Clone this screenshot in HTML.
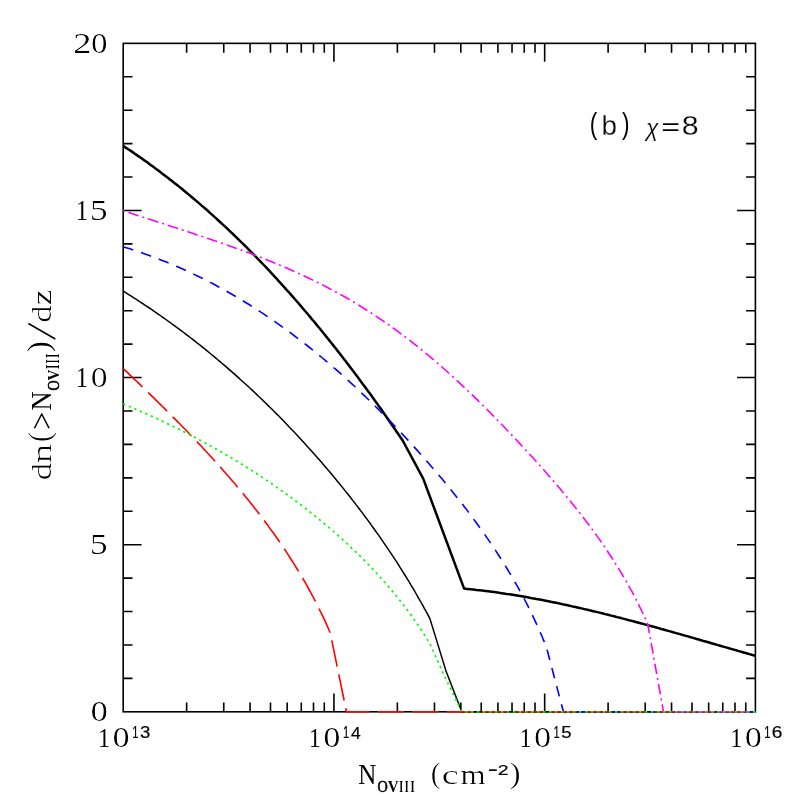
<!DOCTYPE html>
<html><head><meta charset="utf-8"><title>chart</title>
<style>html,body{margin:0;padding:0;background:#fff}svg{display:block}</style>
</head><body>
<svg width="797" height="797" viewBox="0 0 797 797">
<rect width="797" height="797" fill="#fff"/>
<g fill="none" stroke="#000" stroke-width="1.6" stroke-linecap="butt">
<path d="M186.64,711.8 v-9.3 M186.64,43.35 v9.3 M223.75,711.8 v-9.3 M223.75,43.35 v9.3 M250.07,711.8 v-9.3 M250.07,43.35 v9.3 M270.50,711.8 v-9.3 M270.50,43.35 v9.3 M287.18,711.8 v-9.3 M287.18,43.35 v9.3 M301.29,711.8 v-9.3 M301.29,43.35 v9.3 M313.51,711.8 v-9.3 M313.51,43.35 v9.3 M324.29,711.8 v-9.3 M324.29,43.35 v9.3 M333.93,711.8 v-18.4 M333.93,43.35 v18.4 M397.37,711.8 v-9.3 M397.37,43.35 v9.3 M434.48,711.8 v-9.3 M434.48,43.35 v9.3 M460.81,711.8 v-9.3 M460.81,43.35 v9.3 M481.23,711.8 v-9.3 M481.23,43.35 v9.3 M497.92,711.8 v-9.3 M497.92,43.35 v9.3 M512.02,711.8 v-9.3 M512.02,43.35 v9.3 M524.24,711.8 v-9.3 M524.24,43.35 v9.3 M535.02,711.8 v-9.3 M535.02,43.35 v9.3 M544.67,711.8 v-18.4 M544.67,43.35 v18.4 M608.10,711.8 v-9.3 M608.10,43.35 v9.3 M645.21,711.8 v-9.3 M645.21,43.35 v9.3 M671.54,711.8 v-9.3 M671.54,43.35 v9.3 M691.96,711.8 v-9.3 M691.96,43.35 v9.3 M708.65,711.8 v-9.3 M708.65,43.35 v9.3 M722.76,711.8 v-9.3 M722.76,43.35 v9.3 M734.98,711.8 v-9.3 M734.98,43.35 v9.3 M745.76,711.8 v-9.3 M745.76,43.35 v9.3 M123.2,678.38 h9.3 M755.4,678.38 h-9.3 M123.2,644.95 h9.3 M755.4,644.95 h-9.3 M123.2,611.53 h9.3 M755.4,611.53 h-9.3 M123.2,578.11 h9.3 M755.4,578.11 h-9.3 M123.2,544.69 h18.4 M755.4,544.69 h-18.4 M123.2,511.26 h9.3 M755.4,511.26 h-9.3 M123.2,477.84 h9.3 M755.4,477.84 h-9.3 M123.2,444.42 h9.3 M755.4,444.42 h-9.3 M123.2,411.00 h9.3 M755.4,411.00 h-9.3 M123.2,377.57 h18.4 M755.4,377.57 h-18.4 M123.2,344.15 h9.3 M755.4,344.15 h-9.3 M123.2,310.73 h9.3 M755.4,310.73 h-9.3 M123.2,277.31 h9.3 M755.4,277.31 h-9.3 M123.2,243.88 h9.3 M755.4,243.88 h-9.3 M123.2,210.46 h18.4 M755.4,210.46 h-18.4 M123.2,177.04 h9.3 M755.4,177.04 h-9.3 M123.2,143.62 h9.3 M755.4,143.62 h-9.3 M123.2,110.19 h9.3 M755.4,110.19 h-9.3 M123.2,76.77 h9.3 M755.4,76.77 h-9.3"/>
<rect x="123.2" y="43.35" width="632.20" height="668.45"/>
</g>
<g fill="none" stroke-linejoin="round">
<path d="M123.2,145.9 L125.7,147.6 L128.3,149.2 L130.8,150.9 L133.3,152.6 L135.8,154.4 L138.3,156.1 L140.8,157.8 L143.2,159.6 L145.7,161.3 L148.2,163.1 L150.6,164.9 L153.0,166.6 L155.5,168.4 L157.9,170.2 L160.3,172.1 L162.7,173.9 L165.1,175.7 L167.5,177.6 L169.9,179.4 L172.3,181.3 L174.7,183.2 L177.1,185.0 L179.4,186.9 L181.8,188.8 L184.1,190.7 L186.5,192.7 L188.8,194.6 L191.1,196.5 L193.4,198.5 L195.7,200.4 L198.0,202.4 L200.3,204.4 L202.6,206.4 L204.9,208.3 L207.2,210.3 L209.4,212.3 L211.7,214.4 L213.9,216.4 L216.2,218.4 L218.4,220.5 L220.6,222.5 L222.9,224.6 L225.1,226.6 L227.3,228.7 L229.5,230.8 L231.7,232.9 L233.9,235.0 L236.1,237.1 L238.2,239.2 L240.4,241.3 L242.6,243.4 L244.7,245.5 L246.9,247.7 L249.0,249.8 L251.1,252.0 L253.3,254.1 L255.4,256.3 L257.5,258.5 L259.6,260.7 L261.7,262.8 L263.8,265.0 L265.9,267.2 L268.0,269.4 L270.1,271.7 L272.1,273.9 L274.2,276.1 L276.3,278.3 L278.3,280.6 L280.3,282.8 L282.4,285.1 L284.4,287.3 L286.4,289.6 L288.5,291.8 L290.5,294.1 L292.5,296.4 L294.5,298.7 L296.5,301.0 L298.5,303.3 L300.5,305.6 L302.4,307.9 L304.4,310.2 L306.4,312.5 L308.3,314.8 L310.3,317.1 L312.2,319.5 L314.2,321.8 L316.1,324.1 L318.0,326.5 L320.0,328.8 L321.9,331.2 L323.8,333.5 L325.7,335.9 L327.6,338.2 L329.5,340.6 L331.4,343.0 L333.3,345.4 L335.2,347.7 L337.0,350.1 L338.9,352.5 L340.8,354.9 L342.6,357.3 L344.5,359.7 L346.3,362.1 L348.2,364.5 L350.0,366.9 L351.8,369.3 L353.7,371.8 L355.5,374.2 L357.3,376.6 L359.1,379.0 L360.9,381.5 L362.7,383.9 L364.5,386.3 L366.3,388.8 L368.1,391.2 L369.9,393.6 L371.7,396.1 L373.4,398.5 L375.2,401.0 L377.0,403.4 L378.7,405.9 L380.5,408.3 L382.2,410.8 L402.7,440.5 L423.2,478.6 L464.1,588.6 L467.1,588.9 L470.2,589.2 L473.2,589.5 L476.3,589.9 L479.3,590.2 L482.3,590.6 L485.4,590.9 L488.4,591.3 L491.4,591.7 L494.5,592.1 L497.5,592.5 L500.5,593.0 L503.5,593.4 L506.6,593.9 L509.6,594.3 L512.6,594.8 L515.6,595.3 L518.6,595.8 L521.6,596.3 L524.6,596.8 L527.6,597.3 L530.6,597.9 L533.6,598.4 L536.6,599.0 L539.6,599.5 L542.6,600.1 L545.6,600.7 L548.6,601.3 L551.6,601.9 L554.6,602.5 L557.6,603.1 L560.6,603.8 L563.6,604.4 L566.6,605.0 L569.5,605.7 L572.5,606.4 L575.5,607.0 L578.5,607.7 L581.5,608.4 L584.4,609.1 L587.4,609.8 L590.4,610.5 L593.4,611.2 L596.3,611.9 L599.3,612.6 L602.3,613.3 L605.2,614.1 L608.2,614.8 L611.2,615.6 L614.1,616.3 L617.1,617.1 L620.1,617.8 L623.0,618.6 L626.0,619.4 L628.9,620.2 L631.9,620.9 L634.8,621.7 L637.8,622.5 L640.7,623.3 L643.7,624.1 L646.7,624.9 L649.6,625.7 L652.6,626.5 L655.5,627.3 L658.4,628.1 L661.4,629.0 L664.3,629.8 L667.3,630.6 L670.2,631.4 L673.2,632.3 L676.1,633.1 L679.1,633.9 L682.0,634.8 L684.9,635.6 L687.9,636.4 L690.8,637.3 L693.8,638.1 L696.7,639.0 L699.6,639.8 L702.6,640.7 L705.5,641.5 L708.5,642.3 L711.4,643.2 L714.3,644.0 L717.3,644.9 L720.2,645.7 L723.1,646.6 L726.1,647.4 L729.0,648.3 L731.9,649.1 L734.9,649.9 L737.8,650.8 L740.7,651.6 L743.7,652.5 L746.6,653.3 L749.5,654.1 L752.5,655.0 L755.4,655.8" stroke="#000" stroke-width="2.5"/>
<path d="M123.2,291.1 L125.8,292.7 L128.3,294.3 L130.9,295.9 L133.4,297.6 L136.0,299.2 L138.5,300.8 L141.0,302.5 L143.5,304.1 L146.0,305.8 L148.6,307.5 L151.1,309.2 L153.5,310.9 L156.0,312.6 L158.5,314.3 L161.0,316.0 L163.5,317.8 L165.9,319.5 L168.4,321.3 L170.8,323.0 L173.3,324.8 L175.7,326.6 L178.1,328.4 L180.5,330.2 L183.0,332.0 L185.4,333.8 L187.8,335.7 L190.2,337.5 L192.6,339.3 L194.9,341.2 L197.3,343.1 L199.7,344.9 L202.1,346.8 L204.4,348.7 L206.8,350.6 L209.1,352.5 L211.5,354.5 L213.8,356.4 L216.1,358.3 L218.4,360.3 L220.7,362.2 L223.0,364.2 L225.3,366.1 L227.6,368.1 L229.9,370.1 L232.2,372.1 L234.5,374.1 L236.7,376.1 L239.0,378.1 L241.2,380.2 L243.5,382.2 L245.7,384.2 L248.0,386.3 L250.2,388.3 L252.4,390.4 L254.6,392.5 L256.8,394.6 L259.0,396.7 L261.2,398.7 L263.4,400.9 L265.6,403.0 L267.7,405.1 L269.9,407.2 L272.0,409.3 L274.2,411.5 L276.3,413.6 L278.5,415.8 L280.6,417.9 L282.7,420.1 L284.8,422.3 L286.9,424.5 L289.0,426.7 L291.1,428.9 L293.2,431.1 L295.3,433.3 L297.4,435.5 L299.4,437.7 L301.5,439.9 L303.6,442.2 L305.6,444.4 L307.6,446.7 L309.7,448.9 L311.7,451.2 L313.7,453.5 L315.7,455.7 L317.7,458.0 L319.7,460.3 L321.7,462.6 L323.7,464.9 L325.7,467.2 L327.6,469.5 L329.6,471.8 L331.5,474.1 L333.5,476.5 L335.4,478.8 L337.4,481.2 L339.3,483.5 L341.2,485.9 L343.1,488.2 L345.0,490.6 L346.9,492.9 L348.8,495.3 L350.7,497.7 L352.5,500.1 L354.4,502.5 L356.2,504.9 L358.1,507.3 L359.9,509.7 L361.8,512.1 L363.6,514.6 L365.4,517.0 L367.2,519.4 L369.0,521.9 L370.8,524.3 L372.5,526.8 L374.3,529.2 L376.1,531.7 L377.8,534.1 L379.6,536.6 L381.3,539.1 L383.0,541.6 L384.7,544.1 L386.4,546.6 L388.1,549.1 L389.8,551.6 L391.5,554.1 L393.2,556.6 L394.8,559.2 L396.5,561.7 L398.1,564.2 L399.7,566.8 L401.3,569.3 L402.9,571.9 L404.5,574.5 L406.1,577.0 L407.7,579.6 L409.3,582.2 L410.8,584.8 L412.4,587.3 L413.9,589.9 L415.4,592.5 L416.9,595.2 L418.4,597.8 L419.9,600.4 L421.4,603.0 L422.9,605.6 L424.3,608.3 L425.8,610.9 L427.2,613.6 L428.6,616.2 L430.0,618.9 L445.8,670.4 L461.8,711.8 L755.4,711.8" stroke="#000" stroke-width="1.5"/>
<path d="M123.2,246.8 L126.2,247.7 L129.1,248.6 L132.0,249.6 L134.9,250.5 L137.9,251.5 L140.8,252.5 L143.6,253.5 L146.5,254.5 L149.4,255.5 L152.3,256.6 L155.1,257.7 L158.0,258.8 L160.8,259.9 L163.6,261.0 L166.5,262.1 L169.3,263.3 L172.1,264.4 L174.9,265.6 L177.6,266.8 L180.4,268.0 L183.2,269.3 L185.9,270.5 L188.7,271.8 L191.4,273.1 L194.1,274.4 L196.9,275.7 L199.6,277.0 L202.3,278.3 L205.0,279.7 L207.7,281.0 L210.3,282.4 L213.0,283.8 L215.7,285.2 L218.3,286.7 L221.0,288.1 L223.6,289.6 L226.2,291.0 L228.8,292.5 L231.4,294.0 L234.0,295.5 L236.6,297.0 L239.2,298.6 L241.8,300.1 L244.4,301.7 L246.9,303.2 L249.5,304.8 L252.0,306.4 L254.5,308.0 L257.1,309.7 L259.6,311.3 L262.1,312.9 L264.6,314.6 L267.1,316.3 L269.6,318.0 L272.1,319.7 L274.5,321.4 L277.0,323.1 L279.5,324.8 L281.9,326.6 L284.4,328.3 L286.8,330.1 L289.2,331.9 L291.6,333.7 L294.0,335.5 L296.4,337.3 L298.8,339.1 L301.2,341.0 L303.6,342.8 L306.0,344.7 L308.3,346.5 L310.7,348.4 L313.1,350.3 L315.4,352.2 L317.7,354.1 L320.1,356.0 L322.4,358.0 L324.7,359.9 L327.0,361.8 L329.3,363.8 L331.6,365.8 L333.9,367.8 L336.2,369.7 L338.4,371.7 L340.7,373.7 L343.0,375.8 L345.2,377.8 L347.5,379.8 L349.7,381.9 L351.9,383.9 L354.2,386.0 L356.4,388.0 L358.6,390.1 L360.8,392.2 L363.0,394.3 L365.2,396.4 L367.4,398.5 L369.5,400.6 L371.7,402.7 L373.9,404.8 L376.0,407.0 L378.2,409.1 L380.3,411.3 L382.5,413.4 L384.6,415.6 L386.7,417.8 L388.9,420.0 L391.0,422.1 L393.1,424.3 L395.2,426.5 L397.3,428.7 L399.4,431.0 L401.5,433.2 L403.5,435.4 L405.6,437.6 L407.7,439.9 L409.7,442.1 L411.8,444.4 L413.8,446.6 L415.9,448.9 L417.9,451.1 L419.9,453.4 L422.0,455.7 L424.0,458.0 L426.0,460.3 L428.0,462.6 L430.0,464.9 L432.0,467.2 L434.0,469.5 L436.0,471.8 L437.9,474.1 L439.9,476.4 L441.9,478.8 L443.8,481.1 L445.8,483.5 L447.7,485.8 L449.6,488.2 L451.5,490.5 L453.4,492.9 L455.3,495.3 L457.2,497.7 L459.1,500.0 L461.0,502.4 L462.9,504.8 L464.7,507.2 L466.6,509.6 L468.4,512.1 L470.2,514.5 L472.0,516.9 L473.8,519.4 L475.6,521.8 L477.4,524.3 L479.2,526.7 L481.0,529.2 L482.7,531.6 L484.5,534.1 L486.2,536.6 L487.9,539.1 L489.6,541.6 L491.3,544.1 L493.0,546.6 L494.7,549.1 L496.3,551.6 L498.0,554.2 L499.6,556.7 L501.2,559.3 L502.8,561.8 L504.4,564.4 L506.0,566.9 L507.6,569.5 L509.1,572.1 L510.7,574.7 L512.2,577.3 L513.7,579.9 L515.2,582.5 L516.7,585.1 L518.2,587.7 L519.6,590.4 L521.1,593.0 L522.5,595.7 L523.9,598.3 L525.3,601.0 L526.7,603.7 L528.1,606.3 L529.4,609.0 L530.7,611.7 L532.0,614.4 L533.3,617.1 L534.6,619.8 L535.9,622.6 L537.1,625.3 L538.4,628.0 L539.6,630.8 L540.8,633.6 L542.0,636.3 L543.1,639.1 L544.3,641.9 L545.4,644.7 L546.5,647.5 L563.4,711.8 L755.4,711.8" stroke="#00f" stroke-width="1.6" stroke-dasharray="10.6 8.2"/>
<path d="M123.2,368.5 L125.4,370.6 L127.6,372.7 L129.8,374.8 L131.9,376.8 L134.1,378.9 L136.3,381.0 L138.5,383.1 L140.7,385.2 L142.9,387.4 L145.1,389.5 L147.2,391.6 L149.4,393.7 L151.6,395.8 L153.8,397.9 L155.9,400.1 L158.1,402.2 L160.3,404.4 L162.5,406.5 L164.6,408.6 L166.8,410.8 L168.9,412.9 L171.1,415.1 L173.2,417.3 L175.4,419.4 L177.5,421.6 L179.7,423.8 L181.8,426.0 L184.0,428.2 L186.1,430.3 L188.2,432.5 L190.3,434.7 L192.4,436.9 L194.6,439.2 L196.7,441.4 L198.8,443.6 L200.9,445.8 L202.9,448.1 L205.0,450.3 L207.1,452.5 L209.2,454.8 L211.2,457.0 L213.3,459.3 L215.4,461.6 L217.4,463.8 L219.4,466.1 L221.5,468.4 L223.5,470.7 L225.5,473.0 L227.5,475.3 L229.5,477.6 L231.5,479.9 L233.5,482.2 L235.5,484.5 L237.4,486.9 L239.4,489.2 L241.3,491.6 L243.3,493.9 L245.2,496.3 L247.1,498.6 L249.1,501.0 L251.0,503.4 L252.9,505.8 L254.7,508.2 L256.6,510.6 L258.5,513.0 L260.3,515.4 L262.2,517.8 L264.0,520.3 L265.8,522.7 L267.6,525.1 L269.4,527.6 L271.2,530.1 L273.0,532.5 L274.8,535.0 L276.5,537.5 L278.3,540.0 L280.0,542.5 L281.7,545.0 L283.4,547.5 L285.1,550.0 L286.8,552.6 L288.4,555.1 L290.1,557.7 L291.7,560.2 L293.3,562.8 L294.9,565.4 L296.5,568.0 L298.1,570.5 L299.7,573.1 L301.2,575.8 L302.8,578.4 L304.3,581.0 L305.8,583.6 L307.3,586.3 L308.8,589.0 L310.2,591.6 L311.7,594.3 L313.1,597.0 L314.5,599.7 L315.9,602.4 L317.3,605.1 L318.7,607.8 L320.0,610.6 L321.4,613.3 L322.7,616.1 L324.0,618.8 L325.3,621.6 L326.5,624.4 L327.8,627.2 L329.0,630.0 L330.2,632.8 L346.5,711.8 L755.4,711.8" stroke="#f00" stroke-width="1.6" stroke-dasharray="26.7 7.9"/>
<path d="M123.2,210.6 L126.1,211.6 L129.0,212.5 L131.8,213.5 L134.7,214.4 L137.6,215.4 L140.5,216.3 L143.4,217.3 L146.3,218.2 L149.1,219.2 L152.0,220.1 L154.9,221.0 L157.8,222.0 L160.7,222.9 L163.6,223.8 L166.5,224.8 L169.3,225.7 L172.2,226.7 L175.1,227.6 L178.0,228.5 L180.9,229.5 L183.7,230.4 L186.6,231.3 L189.5,232.3 L192.4,233.2 L195.2,234.2 L198.1,235.1 L201.0,236.1 L203.8,237.0 L206.7,238.0 L209.6,239.0 L212.4,239.9 L215.3,240.9 L218.1,241.9 L221.0,242.9 L223.8,243.9 L226.7,244.9 L229.5,245.9 L232.4,246.9 L235.2,247.9 L238.0,248.9 L240.9,249.9 L243.7,251.0 L246.5,252.0 L249.3,253.1 L252.1,254.1 L254.9,255.2 L257.7,256.3 L260.5,257.3 L263.3,258.4 L266.1,259.5 L268.9,260.7 L271.7,261.8 L274.5,262.9 L277.3,264.1 L280.0,265.2 L282.8,266.4 L285.5,267.6 L288.3,268.8 L291.0,270.0 L293.8,271.2 L296.5,272.4 L299.2,273.7 L302.0,274.9 L304.7,276.2 L307.4,277.5 L310.1,278.8 L312.8,280.1 L315.5,281.4 L318.2,282.7 L320.8,284.1 L323.5,285.4 L326.2,286.8 L328.8,288.2 L331.5,289.6 L334.1,291.0 L336.7,292.5 L339.4,293.9 L342.0,295.4 L344.6,296.8 L347.2,298.3 L349.8,299.8 L352.4,301.4 L355.0,302.9 L357.5,304.4 L360.1,306.0 L362.6,307.6 L365.2,309.2 L367.7,310.8 L370.2,312.4 L372.7,314.0 L375.2,315.7 L377.7,317.3 L380.2,319.0 L382.7,320.7 L385.2,322.4 L387.6,324.1 L390.1,325.8 L392.5,327.6 L395.0,329.3 L397.4,331.1 L399.8,332.9 L402.2,334.7 L404.6,336.5 L407.0,338.3 L409.4,340.1 L411.7,342.0 L414.1,343.8 L416.5,345.7 L418.8,347.6 L421.2,349.5 L423.5,351.4 L425.8,353.3 L428.1,355.2 L430.4,357.2 L432.8,359.1 L435.0,361.1 L437.3,363.0 L439.6,365.0 L441.9,367.0 L444.2,369.0 L446.4,371.0 L448.7,373.0 L450.9,375.0 L453.2,377.1 L455.4,379.1 L457.6,381.1 L459.8,383.2 L462.0,385.3 L464.3,387.3 L466.5,389.4 L468.6,391.5 L470.8,393.6 L473.0,395.7 L475.2,397.8 L477.4,399.9 L479.5,402.1 L481.7,404.2 L483.8,406.3 L486.0,408.5 L488.1,410.6 L490.3,412.8 L492.4,414.9 L494.5,417.1 L496.6,419.3 L498.7,421.4 L500.9,423.6 L503.0,425.8 L505.1,428.0 L507.2,430.2 L509.3,432.4 L511.3,434.6 L513.4,436.8 L515.5,439.0 L517.6,441.2 L519.6,443.4 L521.7,445.7 L523.8,447.9 L525.8,450.1 L527.9,452.3 L529.9,454.6 L532.0,456.8 L534.0,459.1 L536.0,461.3 L538.0,463.6 L540.1,465.8 L542.1,468.1 L544.1,470.3 L546.1,472.6 L548.1,474.9 L550.1,477.1 L552.1,479.4 L554.0,481.7 L556.0,484.0 L557.9,486.3 L559.9,488.6 L561.8,490.9 L563.8,493.2 L565.7,495.5 L567.6,497.8 L569.5,500.2 L571.4,502.5 L573.3,504.9 L575.2,507.2 L577.1,509.6 L578.9,511.9 L580.8,514.3 L582.6,516.7 L584.4,519.0 L586.2,521.4 L588.1,523.8 L589.9,526.2 L591.6,528.6 L593.4,531.1 L595.2,533.5 L596.9,535.9 L598.7,538.4 L600.4,540.8 L602.1,543.3 L603.8,545.7 L605.5,548.2 L607.2,550.7 L608.8,553.2 L610.5,555.7 L612.1,558.2 L613.7,560.7 L615.3,563.3 L616.9,565.8 L618.5,568.4 L620.0,570.9 L621.6,573.5 L623.1,576.1 L624.6,578.6 L626.1,581.2 L627.6,583.8 L629.1,586.5 L630.5,589.1 L632.0,591.7 L633.4,594.4 L634.8,597.0 L636.2,599.7 L637.5,602.4 L638.9,605.1 L640.2,607.8 L641.5,610.5 L642.8,613.3 L644.1,616.0 L645.4,618.7 L646.6,621.5 L647.8,624.3 L663.5,711.8 L755.4,711.8" stroke="#f0f" stroke-width="1.6" stroke-dasharray="10.7 4 2 4" stroke-dashoffset="15.2"/>
<path d="M123.2,404.0 L126.0,405.1 L128.8,406.3 L131.6,407.4 L134.3,408.6 L137.1,409.8 L139.9,411.0 L142.6,412.2 L145.4,413.4 L148.2,414.7 L150.9,415.9 L153.7,417.2 L156.4,418.4 L159.2,419.7 L161.9,421.0 L164.7,422.3 L167.4,423.6 L170.1,424.9 L172.9,426.2 L175.6,427.6 L178.3,428.9 L181.0,430.3 L183.7,431.6 L186.4,433.0 L189.1,434.4 L191.8,435.8 L194.5,437.2 L197.2,438.6 L199.9,440.1 L202.6,441.5 L205.3,443.0 L208.0,444.4 L210.6,445.9 L213.3,447.4 L215.9,448.9 L218.6,450.4 L221.2,451.9 L223.9,453.5 L226.5,455.0 L229.1,456.5 L231.8,458.1 L234.4,459.7 L237.0,461.3 L239.6,462.9 L242.2,464.5 L244.8,466.1 L247.4,467.7 L250.0,469.3 L252.5,471.0 L255.1,472.6 L257.7,474.3 L260.2,476.0 L262.8,477.7 L265.3,479.4 L267.8,481.1 L270.4,482.8 L272.9,484.5 L275.4,486.3 L277.9,488.0 L280.4,489.8 L282.9,491.6 L285.3,493.3 L287.8,495.1 L290.3,496.9 L292.7,498.8 L295.2,500.6 L297.6,502.4 L300.1,504.3 L302.5,506.1 L304.9,508.0 L307.3,509.9 L309.7,511.8 L312.1,513.7 L314.5,515.6 L316.8,517.5 L319.2,519.4 L321.5,521.4 L323.9,523.3 L326.2,525.3 L328.5,527.2 L330.9,529.2 L333.2,531.2 L335.5,533.2 L337.7,535.2 L340.0,537.3 L342.3,539.3 L344.5,541.4 L346.8,543.4 L349.0,545.5 L351.2,547.6 L353.4,549.7 L355.6,551.8 L357.8,553.9 L360.0,556.0 L362.1,558.2 L364.3,560.3 L366.4,562.5 L368.5,564.7 L370.6,566.9 L372.7,569.1 L374.8,571.3 L376.8,573.5 L378.9,575.7 L380.9,578.0 L382.9,580.2 L385.0,582.5 L386.9,584.8 L388.9,587.1 L390.9,589.4 L392.8,591.7 L394.8,594.1 L396.7,596.4 L398.6,598.8 L400.5,601.1 L402.3,603.5 L404.2,605.9 L406.0,608.3 L407.8,610.8 L409.6,613.2 L411.4,615.6 L413.2,618.1 L414.9,620.6 L416.6,623.1 L418.4,625.6 L420.1,628.1 L421.7,630.6 L423.4,633.2 L425.0,635.7 L426.6,638.3 L428.2,640.9 L429.8,643.5 L445.7,678.7 L461.8,711.8 L755.4,711.8" stroke="#0f0" stroke-width="1.75" stroke-dasharray="2.3 3.7"/>
</g>
<g opacity="0.999" fill="#000">
<clipPath id="c1"><text transform="translate(72.99,53.15) scale(1.2645,1.0208)" font-family="'Liberation Serif', serif" font-size="29.0">2</text></clipPath><g clip-path="url(#c1)"><text transform="translate(73.29,53.15) scale(1.2645,1.0208)" font-family="'Liberation Serif', serif" font-size="29.0">2</text></g>
<clipPath id="c2"><text transform="translate(91.05,52.87) scale(1.1309,1.0016)" font-family="'Liberation Serif', serif" font-size="29.0">0</text></clipPath><g clip-path="url(#c2)"><text transform="translate(91.35,52.87) scale(1.1309,1.0016)" font-family="'Liberation Serif', serif" font-size="29.0">0</text></g>
<text transform="translate(75.73,220.26) scale(0.8521,1.0238)" font-family="'Liberation Serif', serif" font-size="29.0">1</text>
<clipPath id="c3"><text transform="translate(89.61,219.97) scale(1.2412,1.0170)" font-family="'Liberation Serif', serif" font-size="29.0">5</text></clipPath><g clip-path="url(#c3)"><text transform="translate(89.91,219.97) scale(1.2412,1.0170)" font-family="'Liberation Serif', serif" font-size="29.0">5</text></g>
<text transform="translate(75.73,387.37) scale(0.8521,1.0238)" font-family="'Liberation Serif', serif" font-size="29.0">1</text>
<clipPath id="c4"><text transform="translate(90.61,387.09) scale(1.1635,1.0016)" font-family="'Liberation Serif', serif" font-size="29.0">0</text></clipPath><g clip-path="url(#c4)"><text transform="translate(90.91,387.09) scale(1.1635,1.0016)" font-family="'Liberation Serif', serif" font-size="29.0">0</text></g>
<clipPath id="c5"><text transform="translate(89.61,554.20) scale(1.2412,1.0170)" font-family="'Liberation Serif', serif" font-size="29.0">5</text></clipPath><g clip-path="url(#c5)"><text transform="translate(89.91,554.20) scale(1.2412,1.0170)" font-family="'Liberation Serif', serif" font-size="29.0">5</text></g>
<clipPath id="c6"><text transform="translate(90.39,721.32) scale(1.1879,1.0016)" font-family="'Liberation Serif', serif" font-size="29.0">0</text></clipPath><g clip-path="url(#c6)"><text transform="translate(90.69,721.32) scale(1.1879,1.0016)" font-family="'Liberation Serif', serif" font-size="29.0">0</text></g>
<text transform="translate(98.25,747.00) scale(0.8032,0.9768)" font-family="'Liberation Serif', serif" font-size="29.0">1</text>
<clipPath id="c7"><text transform="translate(112.51,747.02) scale(1.1716,0.9811)" font-family="'Liberation Serif', serif" font-size="29.0">0</text></clipPath><g clip-path="url(#c7)"><text transform="translate(112.81,747.02) scale(1.1716,0.9811)" font-family="'Liberation Serif', serif" font-size="29.0">0</text></g>
<text transform="translate(132.15,738.40) scale(0.6958,1.0265)" font-family="'Liberation Sans', sans-serif" font-size="16" stroke="#000" stroke-width="0.2">1</text>
<text transform="translate(139.89,738.34) scale(1.1600,1.0063)" font-family="'Liberation Sans', sans-serif" font-size="16" stroke="#000" stroke-width="0.2">3</text>
<text transform="translate(308.99,747.00) scale(0.8032,0.9768)" font-family="'Liberation Serif', serif" font-size="29.0">1</text>
<clipPath id="c8"><text transform="translate(323.24,747.02) scale(1.1716,0.9811)" font-family="'Liberation Serif', serif" font-size="29.0">0</text></clipPath><g clip-path="url(#c8)"><text transform="translate(323.54,747.02) scale(1.1716,0.9811)" font-family="'Liberation Serif', serif" font-size="29.0">0</text></g>
<text transform="translate(342.89,738.40) scale(0.6958,1.0265)" font-family="'Liberation Sans', sans-serif" font-size="16" stroke="#000" stroke-width="0.2">1</text>
<text transform="translate(350.93,738.50) scale(1.0915,1.0356)" font-family="'Liberation Sans', sans-serif" font-size="16" stroke="#000" stroke-width="0.2">4</text>
<text transform="translate(519.72,747.00) scale(0.8032,0.9768)" font-family="'Liberation Serif', serif" font-size="29.0">1</text>
<clipPath id="c9"><text transform="translate(533.97,747.02) scale(1.1716,0.9811)" font-family="'Liberation Serif', serif" font-size="29.0">0</text></clipPath><g clip-path="url(#c9)"><text transform="translate(534.27,747.02) scale(1.1716,0.9811)" font-family="'Liberation Serif', serif" font-size="29.0">0</text></g>
<text transform="translate(553.62,738.40) scale(0.6958,1.0265)" font-family="'Liberation Sans', sans-serif" font-size="16" stroke="#000" stroke-width="0.2">1</text>
<text transform="translate(561.32,738.34) scale(1.1600,1.0211)" font-family="'Liberation Sans', sans-serif" font-size="16" stroke="#000" stroke-width="0.2">5</text>
<text transform="translate(730.45,747.00) scale(0.8032,0.9768)" font-family="'Liberation Serif', serif" font-size="29.0">1</text>
<clipPath id="c10"><text transform="translate(744.71,747.02) scale(1.1716,0.9811)" font-family="'Liberation Serif', serif" font-size="29.0">0</text></clipPath><g clip-path="url(#c10)"><text transform="translate(745.01,747.02) scale(1.1716,0.9811)" font-family="'Liberation Serif', serif" font-size="29.0">0</text></g>
<text transform="translate(764.35,738.40) scale(0.6958,1.0265)" font-family="'Liberation Sans', sans-serif" font-size="16" stroke="#000" stroke-width="0.2">1</text>
<text transform="translate(771.83,738.34) scale(1.1920,1.0063)" font-family="'Liberation Sans', sans-serif" font-size="16" stroke="#000" stroke-width="0.2">6</text>
<text transform="translate(358.28,784.20) scale(0.8641,1.0006)" font-family="'Liberation Serif', serif" font-size="29.0">N</text>
<text transform="translate(377.62,791.54) scale(0.8362,0.9456)" font-family="'Liberation Serif', serif" font-size="17" stroke="#000" stroke-width="0.6">O</text>
<text transform="translate(387.63,791.74) scale(0.8827,1.0010)" font-family="'Liberation Serif', serif" font-size="17" font-weight="bold">V</text>
<text transform="translate(399.26,792.00) scale(0.5850,1.0241)" font-family="'Liberation Serif', serif" font-size="17" font-weight="bold">I</text>
<text transform="translate(404.86,792.00) scale(0.5850,1.0241)" font-family="'Liberation Serif', serif" font-size="17" font-weight="bold">I</text>
<text transform="translate(410.54,792.00) scale(0.6215,1.0241)" font-family="'Liberation Serif', serif" font-size="17" font-weight="bold">I</text>
<clipPath id="c11"><text transform="translate(430.40,783.12) scale(1.0204,1.0496)" font-family="'Liberation Serif', serif" font-size="29.0">(</text></clipPath><g clip-path="url(#c11)"><text transform="translate(431.00,783.12) scale(1.0204,1.0496)" font-family="'Liberation Serif', serif" font-size="29.0">(</text></g>
<clipPath id="c12"><text transform="translate(441.33,784.14) scale(1.3333,0.9249)" font-family="'Liberation Serif', serif" font-size="29.0">c</text></clipPath><g clip-path="url(#c12)"><text transform="translate(442.03,784.14) scale(1.3333,0.9249)" font-family="'Liberation Serif', serif" font-size="29.0">c</text></g>
<clipPath id="c13"><text transform="translate(460.22,784.20) scale(1.1165,0.9148)" font-family="'Liberation Serif', serif" font-size="29.0">m</text></clipPath><g clip-path="url(#c13)"><text transform="translate(460.72,784.20) scale(1.1165,0.9148)" font-family="'Liberation Serif', serif" font-size="29.0">m</text></g>
<text transform="translate(488.21,777.78) scale(1.0034,1.4904)" font-family="'Liberation Sans', sans-serif" font-size="16">−</text>
<text transform="translate(497.82,775.20) scale(1.2210,0.9667)" font-family="'Liberation Sans', sans-serif" font-size="16" stroke="#000" stroke-width="0.2">2</text>
<clipPath id="c14"><text transform="translate(509.45,783.12) scale(1.1278,1.0496)" font-family="'Liberation Serif', serif" font-size="29.0">)</text></clipPath><g clip-path="url(#c14)"><text transform="translate(510.05,783.12) scale(1.1278,1.0496)" font-family="'Liberation Serif', serif" font-size="29.0">)</text></g>
<clipPath id="c15"><text transform="rotate(-90) translate(-480.89,50.63) scale(1.2292,0.9606)" font-family="'Liberation Serif', serif" font-size="29.0">d</text></clipPath><g clip-path="url(#c15)"><text transform="rotate(-90) translate(-479.99,50.63) scale(1.2292,0.9606)" font-family="'Liberation Serif', serif" font-size="29.0">d</text></g>
<clipPath id="c16"><text transform="rotate(-90) translate(-464.23,50.60) scale(1.3960,0.9294)" font-family="'Liberation Serif', serif" font-size="29.0">n</text></clipPath><g clip-path="url(#c16)"><text transform="rotate(-90) translate(-463.03,50.60) scale(1.3960,0.9294)" font-family="'Liberation Serif', serif" font-size="29.0">n</text></g>
<clipPath id="c17"><text transform="rotate(-90) translate(-442.70,49.51) scale(1.1009,1.0838)" font-family="'Liberation Serif', serif" font-size="29.0">(</text></clipPath><g clip-path="url(#c17)"><text transform="rotate(-90) translate(-442.10,49.51) scale(1.1009,1.0838)" font-family="'Liberation Serif', serif" font-size="29.0">(</text></g>
<text transform="rotate(-90) translate(-429.96,53.17) scale(1.1264,1.1651)" font-family="'Liberation Serif', serif" font-size="29.0">&gt;</text>
<text transform="rotate(-90) translate(-410.46,50.60) scale(0.9104,1.0427)" font-family="'Liberation Serif', serif" font-size="29.0">N</text>
<text transform="rotate(-90) translate(-390.48,58.73) scale(0.8270,1.0244)" font-family="'Liberation Serif', serif" font-size="17" stroke="#000" stroke-width="0.6">O</text>
<text transform="rotate(-90) translate(-380.47,58.73) scale(0.8911,1.0361)" font-family="'Liberation Serif', serif" font-size="17" font-weight="bold">V</text>
<text transform="rotate(-90) translate(-368.85,59.00) scale(0.6033,1.0601)" font-family="'Liberation Serif', serif" font-size="17" font-weight="bold">I</text>
<text transform="rotate(-90) translate(-363.22,59.00) scale(0.5667,1.0601)" font-family="'Liberation Serif', serif" font-size="17" font-weight="bold">I</text>
<text transform="rotate(-90) translate(-357.74,59.00) scale(0.5850,1.0601)" font-family="'Liberation Serif', serif" font-size="17" font-weight="bold">I</text>
<clipPath id="c18"><text transform="rotate(-90) translate(-352.83,49.48) scale(1.2083,1.0724)" font-family="'Liberation Serif', serif" font-size="29.0">)</text></clipPath><g clip-path="url(#c18)"><text transform="rotate(-90) translate(-352.13,49.48) scale(1.2083,1.0724)" font-family="'Liberation Serif', serif" font-size="29.0">)</text></g>
<line x1="55.3" y1="339.0" x2="28.4" y2="323.5" stroke="#000" stroke-width="1.5"/>
<clipPath id="c19"><text transform="rotate(-90) translate(-323.39,50.63) scale(1.2292,0.9655)" font-family="'Liberation Serif', serif" font-size="29.0">d</text></clipPath><g clip-path="url(#c19)"><text transform="rotate(-90) translate(-322.49,50.63) scale(1.2292,0.9655)" font-family="'Liberation Serif', serif" font-size="29.0">d</text></g>
<clipPath id="c20"><text transform="rotate(-90) translate(-305.87,50.60) scale(1.2494,0.9466)" font-family="'Liberation Serif', serif" font-size="29.0">z</text></clipPath><g clip-path="url(#c20)"><text transform="rotate(-90) translate(-304.97,50.60) scale(1.2494,0.9466)" font-family="'Liberation Serif', serif" font-size="29.0">z</text></g>
<text transform="translate(589.70,134.41) scale(0.8381,1.0893)" font-family="'Liberation Sans', sans-serif" font-size="27">(</text>
<text transform="translate(601.38,134.85) scale(1.0328,1.0107)" font-family="'Liberation Sans', sans-serif" font-size="27" stroke="#fff" stroke-width="0.25">b</text>
<text transform="translate(621.97,134.41) scale(0.8381,1.0893)" font-family="'Liberation Sans', sans-serif" font-size="27">)</text>
<text transform="translate(645.94,135.86) scale(0.8464,0.9055)" font-family="'Liberation Sans', sans-serif" font-size="27" font-style="italic" stroke="#fff" stroke-width="0.25">χ</text>
<text transform="translate(661.20,135.05) scale(1.1999,0.8665)" font-family="'Liberation Sans', sans-serif" font-size="27" stroke="#fff" stroke-width="0.25">=</text>
<text transform="translate(681.66,134.94) scale(1.1240,1.0536)" font-family="'Liberation Sans', sans-serif" font-size="27" stroke="#fff" stroke-width="0.25">8</text>
</g>
</svg>
</body></html>
